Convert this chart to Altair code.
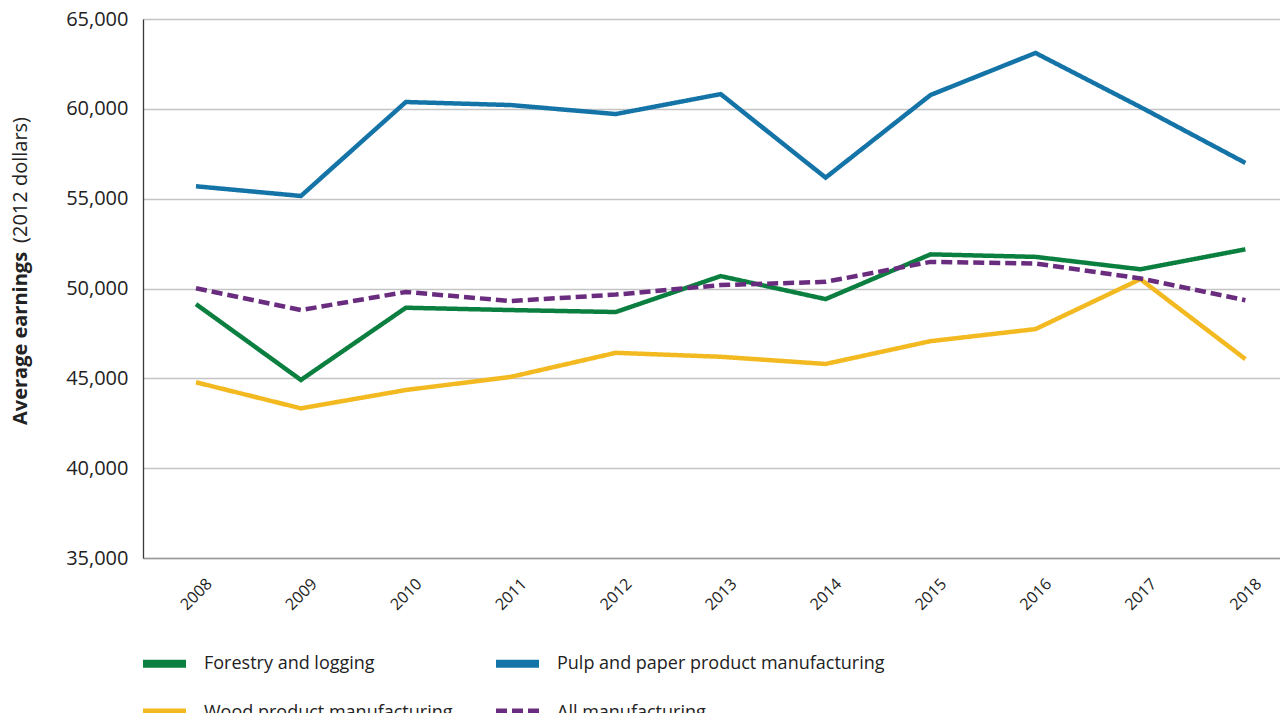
import altair as alt
import pandas as pd

years = list(range(2008, 2019))
series_names = ["Forestry and logging", "Pulp and paper product manufacturing",
                "Wood product manufacturing", "All manufacturing"]
forestry = [49130, 44910, 48930, 48800, 48690, 50690, 49410, 51900, 51760, 51070, 52180]
pulp = [55690, 55150, 60380, 60210, 59710, 60820, 56170, 60770, 63110, 60100, 56990]
wood = [44780, 43330, 44350, 45080, 46420, 46200, 45800, 47070, 47740, 50520, 46070]
allmfg = [50010, 48800, 49810, 49300, 49660, 50190, 50370, 51480, 51390, 50560, 49350]
colors = ["#0b7f3f", "#1574a7", "#f3b920", "#692c7e"]
y_ticks = [35000, 40000, 45000, 50000, 55000, 60000, 65000]

rows = []
for name, vals in zip(series_names, [forestry, pulp, wood, allmfg]):
    for yr, v in zip(years, vals):
        rows.append({"year": yr, "value": v, "series": name})
df = pd.DataFrame(rows)

FONT = "Open Sans"

lines = alt.Chart(df).mark_line(strokeWidth=4.5, strokeCap="butt").encode(
    x=alt.X("year:Q",
            scale=alt.Scale(domain=[2007.495, 2018.33], nice=False, zero=False),
            axis=alt.Axis(values=years, format="d", title=None, grid=False, ticks=False,
                          labelAngle=-45, labelAlign="center", labelBaseline="middle",
                          labelFontSize=16, labelPadding=36,
                          domainColor="#9a9a9a", domainWidth=1.5, labelColor="#222222",
                          labelFont=FONT)),
    y=alt.Y("value:Q",
            scale=alt.Scale(domain=[35000, 65000], nice=False, zero=False),
            axis=alt.Axis(values=y_ticks, format=",d", title=None, ticks=False,
                          labelFontSize=20, labelPadding=15, labelColor="#222222",
                          gridColor="#c4c4c4", gridWidth=1.5,
                          domainColor="#3a3a3a", domainWidth=1.3, labelFont=FONT)),
    color=alt.Color("series:N",
                    scale=alt.Scale(domain=series_names, range=colors),
                    legend=alt.Legend(title=None, orient="none", legendX=-4, legendY=619,
                                      direction="horizontal",
                                      columns=2, symbolType="stroke", symbolSize=1849,
                                      symbolStrokeWidth=8, labelFontSize=18, labelFont=FONT,
                                      labelColor="#222222", labelOffset=14,
                                      columnPadding=27, rowPadding=7, labelLimit=0)),
    strokeDash=alt.StrokeDash("series:N",
                              scale=alt.Scale(domain=series_names,
                                              range=[[1, 0], [1, 0], [1, 0], [11, 5]]),
                              legend=None),
    order=alt.Order("year:Q"),
)

t1 = alt.Chart(alt.Data(values=[{}])).mark_text(
    text="Average earnings", angle=270, align="left", baseline="middle",
    fontSize=20, fontWeight="bold", font=FONT, color="#222222"
).encode(x=alt.value(-122), y=alt.value(406))

t2 = alt.Chart(alt.Data(values=[{}])).mark_text(
    text="(2012 dollars)", angle=270, align="right", baseline="middle",
    fontSize=20, font=FONT, color="#222222"
).encode(x=alt.value(-122), y=alt.value(98))

chart = alt.layer(lines, t1, t2).properties(
    width=1137, height=539,
    autosize=alt.AutoSizeParams(type="none"),
    padding={"left": 135, "top": 11, "right": 0, "bottom": 155},
).configure_view(stroke=None).configure(background="white")

chart.save("out.html", embed_options={"renderer": "svg", "actions": False})
